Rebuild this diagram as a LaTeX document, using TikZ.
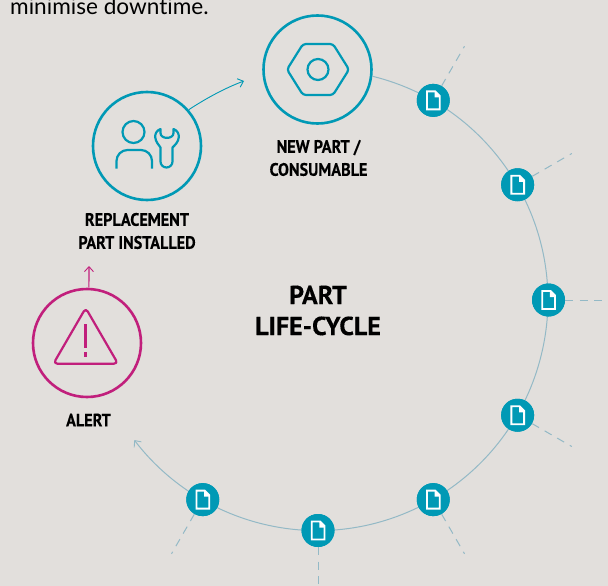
\documentclass[tikz,border=0pt]{standalone}
\usepackage{fontspec}
\setmainfont[BoldFeatures={FakeBold=0.25}]{PT Sans}
\newfontfamily\bodyfont[Ligatures=NoCommon]{Lato}
\usetikzlibrary{arrows.meta,calc}
\definecolor{bgc}{HTML}{E2DFDC}
\definecolor{tealc}{HTML}{0099B5}
\definecolor{ringc}{HTML}{93B9C6}
\definecolor{magc}{HTML}{C11F7C}
\tikzset{
  x=1pt,y=-1pt,
  stage/.style={circle,draw,line width=2.6pt,minimum size=108pt,inner sep=0pt},
  cap label/.style={font=\bfseries\fontsize{18}{23}\selectfont,align=center,text=black,inner sep=0pt,xscale=.9},
  hub/.style={circle,fill=tealc,minimum size=33pt,inner sep=0pt},
  ring/.style={draw=ringc,line width=1pt},
  spoke/.style={draw=ringc,line width=1pt,dash pattern=on 8pt off 6.5pt},
  pic stroke/.style={line width=2.2pt,line join=round},
  openhead/.style={-{Straight Barb[length=5pt,width=9pt,line width=.9pt]}},
}
\newcommand{\docicon}[1]{%
  \draw[white,line width=1.9pt,line join=miter] ($(#1)+(-6.3,-9)$) -- ($(#1)+(2,-9)$) -- ($(#1)+(6.5,-4.5)$) -- ($(#1)+(6.5,9)$) -- ($(#1)+(-6.3,9)$) -- cycle;
  \fill[white] ($(#1)+(1.4,-9)$) -- ($(#1)+(6.5,-4.5)$) -- ($(#1)+(6.5,-3)$) -- ($(#1)+(1.4,-3)$) -- cycle;
}
\begin{document}
\begin{tikzpicture}
\useasboundingbox (0,0) rectangle (608,586);
\clip (0,0) rectangle (608,586);
\fill[bgc] (0,0) rectangle (608,586);
\node[anchor=base west,inner sep=0pt,font=\bodyfont\fontsize{22.6}{25}\selectfont,text=black] (intro) at (10,15) {minimise downtime.};

\coordinate (hubcentre) at (318,300);
\node[stage,draw=tealc] (newpart) at (317.5,69.5) {};
\node[stage,draw=tealc] (replace) at (147,146) {};
\node[stage,draw=magc] (alert) at (87,343) {};

\draw[ring,openhead] (newpart.-7) arc[start angle=-76.2,end angle=142.6,radius=230.5];

\foreach \n/\a in {a/-60,b/-30,c/0,d/30,e/60,f/90,g/120}{
  \coordinate (s\n) at ($(hubcentre)+(\a:293)$);
  \node[hub] (h\n) at ($(hubcentre)+(\a:230.5)$) {};
  \draw[spoke] (h\n) -- (s\n);
  \node[hub] at (h\n) {};
  \docicon{h\n}
}

% arrows between stages
\coordinate (tonew) at (244,81);
\coordinate (toreplace) at (89,266);
\draw[tealc,line width=.9pt,openhead] (replace.41) .. controls (205,99) and (225,88) .. (tonew);
\draw[magc,line width=1.1pt,openhead] (alert.88) -- (toreplace);

% nut
\draw[tealc,pic stroke,rounded corners=3pt] (287,69.5) -- (303,44) -- (333,44) -- (349,69.5) -- (333,95) -- (303,95) -- cycle;
\draw[tealc,pic stroke] (318,69.5) circle[radius=10.5];

% person and wrench
\draw[tealc,pic stroke] (133.5,132) circle[radius=11];
\draw[tealc,pic stroke] (116.5,168.5) -- (116.5,161) arc[start angle=180,end angle=270,radius=11] -- (141,150) arc[start angle=-90,end angle=0,radius=11] -- (152,168.5);
\draw[tealc,pic stroke] (160.5,129) .. controls (156.5,130.5) and (155,134) .. (155.2,137) .. controls (155.5,142) and (159,145) .. (160.5,147.5) -- (160.5,161.5) arc[start angle=180,end angle=0,radius=6] -- (172.5,147.5) .. controls (175,145) and (178.5,142) .. (178.8,137) .. controls (179,134) and (177.5,130.5) .. (173.5,129) -- (173.5,133) .. controls (173.5,139.5) and (160.5,139.5) .. (160.5,133) -- cycle;

% warning
\draw[magc,pic stroke,rounded corners=4pt] (85.7,308) -- (118,363.7) -- (53.4,363.7) -- cycle;
\fill[magc] (84.2,324) rectangle (87.4,348);
\fill[magc] (84.2,351.7) rectangle (87.4,357);

% labels
\node[cap label] (lnew) at (318.5,158) {NEW PART /\\CONSUMABLE};
\node[cap label] (lrep) at (137,231) {REPLACEMENT\\PART INSTALLED};
\node[cap label] (lalert) at (88.5,420) {ALERT};
\node[font=\bfseries\fontsize{26}{31}\selectfont,align=center,inner sep=0pt] (title) at (318,310.5) {PART\\LIFE-CYCLE};
\end{tikzpicture}
\end{document}
